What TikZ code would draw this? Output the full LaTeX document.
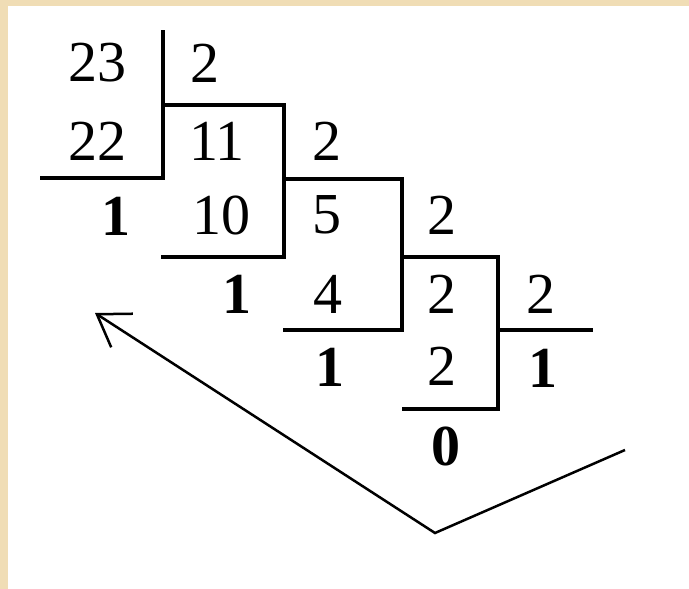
\documentclass[tikz,border=0pt]{standalone}
\usepackage{fontspec}
\setmainfont{Liberation Serif}
\usetikzlibrary{arrows.meta}
\definecolor{frame}{RGB}{240,221,181}
\tikzset{
  num/.style={inner sep=0pt, font=\fontsize{58}{58}\selectfont},
  rem/.style={inner sep=0pt, font=\fontsize{58}{58}\selectfont\bfseries},
  bar/.style={line width=4pt, line join=miter},
  pointer/.style={line width=2.5pt, -{Straight Barb[length=30pt,width=40pt]}}
}

\begin{document}
\begin{tikzpicture}[x=1pt, y=-1pt]
  % page
  \fill[frame] (0,0) rectangle (689,589);
  \fill[white] (8,6) rectangle (689,589);
  \useasboundingbox (0,0) rectangle (689,589);

  % division corners
  \draw[bar] (163,30) -- (163,178) -- (40,178);
  \draw[bar] (163,105) -- (284,105) -- (284,257) -- (161,257);
  \draw[bar] (284,179) -- (402,179) -- (402,330) -- (283,330);
  \draw[bar] (402,257) -- (498,257) -- (498,409) -- (402,409);
  \draw[bar] (498,330) -- (593,330);

  % numbers
  \node[num] (a23) at (97,63)  {23};
  \node[num] (b1)  at (205,63) {2};
  \node[num] (a22) at (97,141) {22};
  \node[num] (q11) at (217,141) {11};
  \node[num] (b2)  at (327,141) {2};
  \node[rem] (r1)  at (116,216) {1};
  \node[num] (a10) at (221,215) {10};
  \node[num] (q5)  at (327,215) {5};
  \node[num] (b3)  at (442,215) {2};
  \node[rem] (r2)  at (237,294) {1};
  \node[num] (a4)  at (328,294) {4};
  \node[num] (q2)  at (442,294) {2};
  \node[num] (b4)  at (541,294) {2};
  \node[rem] (r3)  at (330,367) {1};
  \node[num] (a2)  at (442,366) {2};
  \node[rem] (q1)  at (543,368) {1};
  \node[rem] (r4)  at (446,446) {0};

  % reading direction
  \coordinate (vend) at (625,450);
  \coordinate (vbot) at (435,533);
  \coordinate (tip)  at (95,313);
  \draw[pointer] (vend) -- (vbot) -- (tip);
\end{tikzpicture}
\end{document}
